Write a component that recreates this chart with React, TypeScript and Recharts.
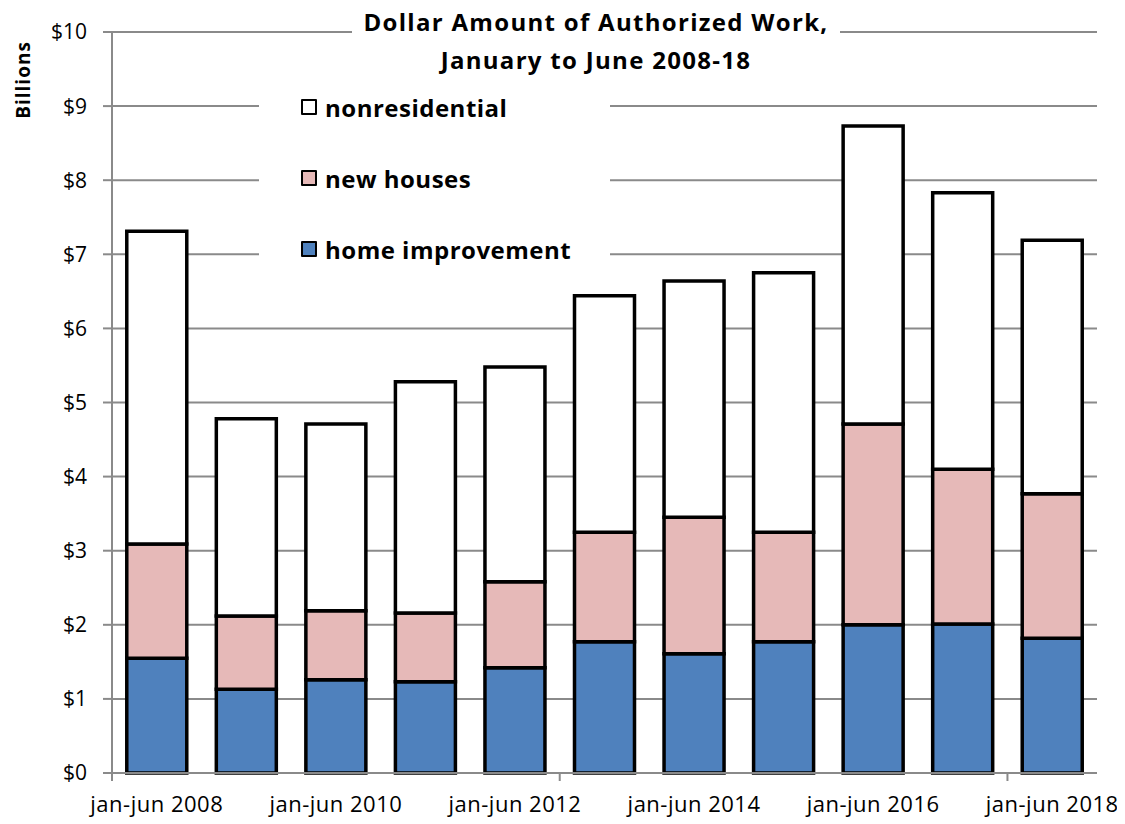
import React from 'react';
import { BarChart, Bar, XAxis, YAxis, CartesianGrid, Customized } from 'recharts';

const categories = [
  'jan-jun 2008', 'jan-jun 2009', 'jan-jun 2010', 'jan-jun 2011', 'jan-jun 2012', 'jan-jun 2013',
  'jan-jun 2014', 'jan-jun 2015', 'jan-jun 2016', 'jan-jun 2017', 'jan-jun 2018',
];
const homeImprovement = [1.55, 1.13, 1.26, 1.23, 1.42, 1.77, 1.61, 1.77, 2.0, 2.01, 1.82];
const newHouses = [1.54, 0.99, 0.93, 0.93, 1.16, 1.48, 1.84, 1.48, 2.71, 2.09, 1.95];
const nonresidential = [4.22, 2.66, 2.52, 3.12, 2.9, 3.19, 3.19, 3.5, 4.02, 3.73, 3.42];
const yTicks = [0, 1, 2, 3, 4, 5, 6, 7, 8, 9, 10];

const data = categories.map((c, i) => ({
  name: c,
  home: homeImprovement[i],
  newh: newHouses[i],
  nonres: nonresidential[i],
}));

const W = 1117;
const H = 816;
const MARGIN = { top: 24, right: 28, bottom: 21, left: 44 };
const Y_AXIS_W = 60;
const PLOT_W = W - MARGIN.left - MARGIN.right - Y_AXIS_W;
const BAND = PLOT_W / categories.length;
const FONT = '"Open Sans", Lato, sans-serif';
const GRID = '#8a8a8a';

const legendItems = [
  { label: 'nonresidential', color: '#FFFFFF' },
  { label: 'new houses', color: '#E6B9B8' },
  { label: 'home improvement', color: '#4F81BD' },
];

const XTick = (props: any) => {
  const { x, y, index, payload } = props;
  const showLabel = index % 2 === 0;
  const showMark = index % 5 === 0;
  return (
    <g>
      {showMark && (
        <line x1={x - BAND / 2} x2={x - BAND / 2} y1={y} y2={y + 8} stroke={GRID} strokeWidth={2} />
      )}
      {showLabel && (
        <text
          x={x}
          y={y + 30}
          textAnchor="middle"
          dominantBaseline="central"
          fontSize={22}
          letterSpacing={0.5}
          fontFamily={FONT}
          fill="#000"
        >
          {payload.value}
        </text>
      )}
    </g>
  );
};

const YLabel = () => (
  <text
    x={15}
    y={72}
    transform="rotate(-90 15 72)"
    textAnchor="middle"
    dominantBaseline="central"
    fontFamily={FONT}
    fontWeight={700}
    fontSize={19}
    letterSpacing={1}
    fill="#000"
  >
    Billions
  </text>
);

export default function App() {
  return (
    <div style={{ position: 'relative', width: W, height: H }}>
      <BarChart width={W} height={H} data={data} margin={MARGIN} barCategoryGap="16.5%">
        <CartesianGrid vertical={false} stroke={GRID} strokeWidth={2} />
        <XAxis
          dataKey="name"
          interval={0}
          tickLine={false}
          tickSize={0}
          tickMargin={0}
          height={30}
          axisLine={{ stroke: GRID, strokeWidth: 2 }}
          tick={<XTick />}
        />
        <YAxis
          width={Y_AXIS_W}
          domain={[0, 10]}
          ticks={yTicks}
          interval={0}
          tickSize={9}
          tickMargin={16}
          tickFormatter={(v: number) => `$${v}`}
          axisLine={{ stroke: GRID, strokeWidth: 2 }}
          tickLine={{ stroke: GRID, strokeWidth: 2 }}
          tick={{ fontSize: 21, fontFamily: FONT, fill: '#000' }}
        />
        <Bar dataKey="home" stackId="a" fill="#4F81BD" stroke="#000" strokeWidth={3.5} isAnimationActive={false} />
        <Bar dataKey="newh" stackId="a" fill="#E6B9B8" stroke="#000" strokeWidth={3.5} isAnimationActive={false} />
        <Bar dataKey="nonres" stackId="a" fill="#FFFFFF" stroke="#000" strokeWidth={3.5} isAnimationActive={false} />
        <Customized component={YLabel} />
      </BarChart>
      <div
        style={{
          position: 'absolute',
          left: 251,
          top: 77,
          width: 351,
          height: 193,
          background: '#fff',
        }}
      >
        {legendItems.map((it, i) => (
          <div
            key={it.label}
            style={{
              position: 'absolute',
              left: 42,
              top: 2 + i * 71,
              display: 'flex',
              alignItems: 'center',
              height: 40,
              fontFamily: FONT,
              fontWeight: 700,
              fontSize: 24,
              letterSpacing: 0.5,
              color: '#000',
              whiteSpace: 'nowrap',
            }}
          >
            <span
              style={{
                display: 'inline-block',
                width: 12,
                height: 12,
                background: it.color,
                border: '2.5px solid #000',
                borderRadius: 1,
                marginRight: 8,
              }}
            />
            {it.label}
          </div>
        ))}
      </div>
      <div
        style={{
          position: 'absolute',
          left: 344,
          top: -5,
          width: 488,
          background: '#fff',
          textAlign: 'center',
          fontFamily: FONT,
          fontWeight: 700,
          fontSize: 24,
          letterSpacing: 1.3,
          lineHeight: '38px',
          color: '#000',
        }}
      >
        Dollar Amount of Authorized Work,
        <br />
        January to June 2008-18
      </div>
    </div>
  );
}
